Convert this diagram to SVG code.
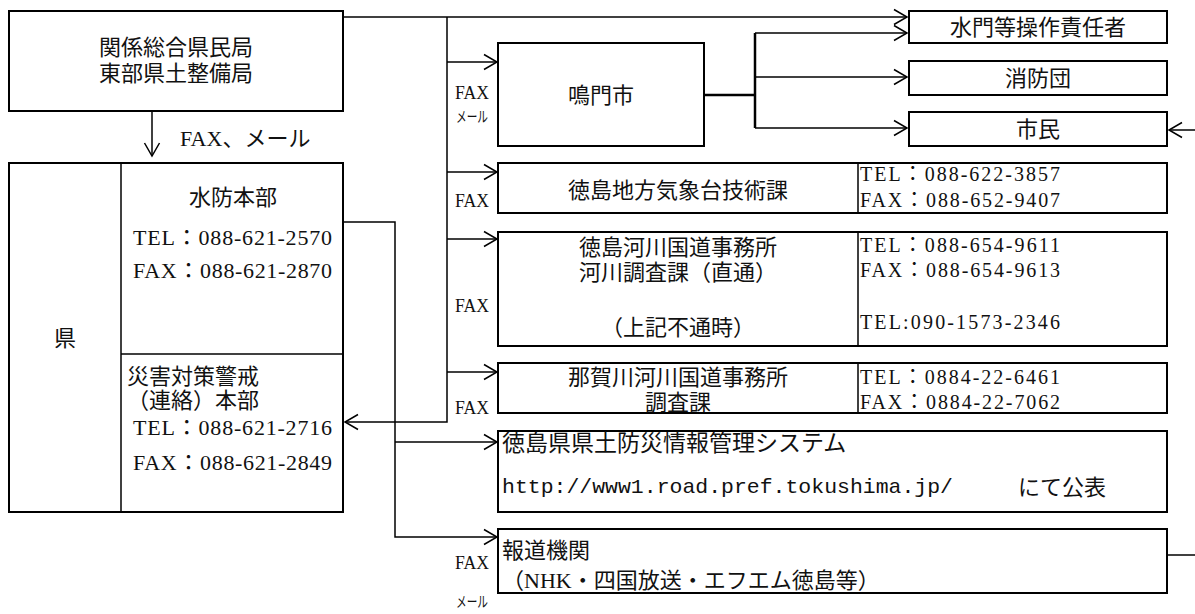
<svg xmlns="http://www.w3.org/2000/svg" width="1195" height="614" viewBox="0 0 1195 614">
<style>
.box{fill:#fff;stroke:#000;stroke-width:2}
.div{fill:none;stroke:#000;stroke-width:1.5}
.ln{fill:none;stroke:#000;stroke-width:1.5}
.thk{fill:none;stroke:#000;stroke-width:2.5}
text{font-family:"Liberation Serif","Noto Sans CJK JP",serif;fill:#111;dominant-baseline:central}
.jp{font-size:22px}
.c{text-anchor:middle}
.num{font-size:20px}
.sm{font-size:19px}
.xs{font-size:15px}
.url{font-family:"Liberation Mono","Noto Sans CJK JP",monospace;font-size:21px}
</style>
<defs>
<marker id="ah" markerWidth="16" markerHeight="18" refX="14" refY="9" orient="auto" markerUnits="userSpaceOnUse">
<path d="M1,1.5 L14,9 L1,16.5" fill="none" stroke="#000" stroke-width="1.5"/>
</marker>
</defs>
<rect width="1195" height="614" fill="#fff"/>

<g id="connectors">
<path class="ln" d="M343,17 H907" marker-end="url(#ah)"/>
<path class="ln" d="M447,17 V422 H345" marker-end="url(#ah)"/>
<path class="ln" d="M447,62 H497" marker-end="url(#ah)"/>
<path class="ln" d="M447,172 H497" marker-end="url(#ah)"/>
<path class="ln" d="M447,239 H497" marker-end="url(#ah)"/>
<path class="ln" d="M447,372 H497" marker-end="url(#ah)"/>
<path class="ln" d="M343,222 H395 V537 H497" marker-end="url(#ah)"/>
<path class="ln" d="M395,442 H497" marker-end="url(#ah)"/>
<path class="thk" d="M704,95 H755"/>
<path class="thk" d="M755,33 V128"/>
<path class="ln" d="M755,33 H907" marker-end="url(#ah)"/>
<path class="ln" d="M755,77 H907" marker-end="url(#ah)"/>
<path class="ln" d="M755,128 H907" marker-end="url(#ah)"/>
<path class="ln" d="M1195,130 H1169" marker-end="url(#ah)"/>
<path class="ln" d="M1167,555 H1195"/>
<path class="ln" d="M152,111 V156" marker-end="url(#ah)"/>
<text class="jp" x="180" y="138">FAX、メール</text>
<text class="sm" x="455" y="92" textLength="34" lengthAdjust="spacingAndGlyphs">FAX</text>
<text class="xs" x="456" y="117" textLength="32" lengthAdjust="spacingAndGlyphs">メール</text>
<text class="sm" x="455" y="200" textLength="34" lengthAdjust="spacingAndGlyphs">FAX</text>
<text class="sm" x="455" y="305" textLength="34" lengthAdjust="spacingAndGlyphs">FAX</text>
<text class="sm" x="455" y="407" textLength="34" lengthAdjust="spacingAndGlyphs">FAX</text>
<text class="sm" x="455" y="562" textLength="34" lengthAdjust="spacingAndGlyphs">FAX</text>
<text class="xs" x="456" y="602" textLength="32" lengthAdjust="spacingAndGlyphs">メール</text>
</g>

<g id="kankei">
<rect class="box" x="9" y="11" width="334" height="100"/>
<text class="jp c" x="176" y="47">関係総合県民局</text>
<text class="jp c" x="176" y="73">東部県土整備局</text>
</g>

<g id="ken">
<rect class="box" x="9" y="163" width="334" height="349"/>
<line class="div" x1="121" y1="163" x2="121" y2="512"/>
<line class="div" x1="121" y1="354" x2="343" y2="354"/>
<text class="jp c" x="65" y="338">県</text>
</g>

<g id="suibou">
<text class="jp c" x="233" y="197">水防本部</text>
<text class="jp" x="133" y="237" textLength="199" lengthAdjust="spacing">TEL：088-621-2570</text>
<text class="jp" x="133" y="270" textLength="199" lengthAdjust="spacing">FAX：088-621-2870</text>
</g>

<g id="saigai">
<text class="jp" x="127" y="376">災害対策警戒</text>
<text class="jp" x="127" y="400">（連絡）本部</text>
<text class="jp" x="133" y="427" textLength="199" lengthAdjust="spacing">TEL：088-621-2716</text>
<text class="jp" x="133" y="462" textLength="199" lengthAdjust="spacing">FAX：088-621-2849</text>
</g>

<g id="naruto">
<rect class="box" x="498" y="43" width="206" height="103"/>
<text class="jp c" x="601" y="95">鳴門市</text>
</g>

<g id="suimon">
<rect class="box" x="909" y="11" width="258" height="32"/>
<text class="jp c" x="1038" y="27">水門等操作責任者</text>
</g>

<g id="shoubou">
<rect class="box" x="909" y="61" width="258" height="34"/>
<text class="jp c" x="1038" y="78">消防団</text>
</g>

<g id="shimin">
<rect class="box" x="909" y="112" width="258" height="34"/>
<text class="jp c" x="1038" y="129">市民</text>
</g>

<g id="kishoudai">
<rect class="box" x="498" y="163" width="669" height="50"/>
<line class="div" x1="858" y1="163" x2="858" y2="213"/>
<text class="jp c" x="678" y="190">徳島地方気象台技術課</text>
<text class="num" x="860" y="174" textLength="200" lengthAdjust="spacing">TEL：088-622-3857</text>
<text class="num" x="860" y="200" textLength="200" lengthAdjust="spacing">FAX：088-652-9407</text>
</g>

<g id="tokushima-kasen">
<rect class="box" x="498" y="232" width="669" height="114"/>
<line class="div" x1="858" y1="232" x2="858" y2="346"/>
<text class="jp c" x="678" y="247">徳島河川国道事務所</text>
<text class="jp c" x="678" y="272">河川調査課（直通）</text>
<text class="jp c" x="678" y="327">（上記不通時）</text>
<text class="num" x="860" y="245" textLength="200" lengthAdjust="spacing">TEL：088-654-9611</text>
<text class="num" x="860" y="270" textLength="200" lengthAdjust="spacing">FAX：088-654-9613</text>
<text class="num" x="860" y="322" textLength="200" lengthAdjust="spacing">TEL:090-1573-2346</text>
</g>

<g id="nakagawa">
<rect class="box" x="498" y="363" width="669" height="50"/>
<line class="div" x1="858" y1="363" x2="858" y2="413"/>
<text class="jp c" x="678" y="377">那賀川河川国道事務所</text>
<text class="jp c" x="678" y="402">調査課</text>
<text class="num" x="860" y="377" textLength="200" lengthAdjust="spacing">TEL：0884-22-6461</text>
<text class="num" x="860" y="402" textLength="200" lengthAdjust="spacing">FAX：0884-22-7062</text>
</g>

<g id="bousai-system">
<rect class="box" x="498" y="431" width="669" height="81"/>
<text class="jp" x="502" y="443" style="font-size:23px">徳島県県土防災情報管理システム</text>
<text class="url" x="502" y="487" textLength="451" lengthAdjust="spacingAndGlyphs">http://www1.road.pref.tokushima.jp/</text>
<text class="jp" x="1018" y="487">にて公表</text>
</g>

<g id="houdou">
<rect class="box" x="498" y="529" width="669" height="64"/>
<text class="jp" x="502" y="550">報道機関</text>
<text class="jp" x="502" y="580">（NHK・四国放送・エフエム徳島等）</text>
</g>
</svg>
